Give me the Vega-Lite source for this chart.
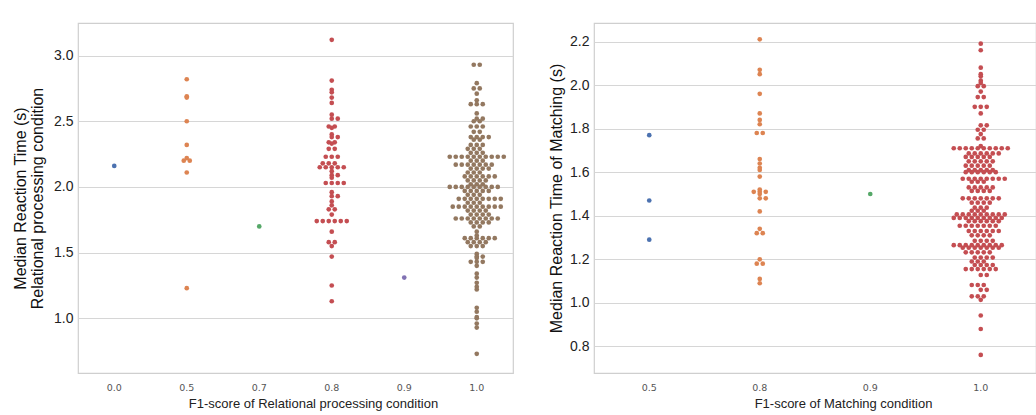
{
"$schema": "https://vega.github.io/schema/vega-lite/v6.json",
"padding": {"left": 11, "top": 22, "right": 0, "bottom": 0},
"spacing": 33,
"resolve": {"scale": {"color": "independent", "xOffset": "independent"}},
"datasets": {
"L": [
{"f":"0.0","t":2.16},
{"f":"0.5","t":2.82},{"f":"0.5","t":2.69},{"f":"0.5","t":2.68},{"f":"0.5","t":2.50},{"f":"0.5","t":2.32},{"f":"0.5","t":2.22},{"f":"0.5","t":2.20},{"f":"0.5","t":2.20},{"f":"0.5","t":2.11},{"f":"0.5","t":1.23},
{"f":"0.7","t":1.70},
{"f":"0.8","t":3.12},{"f":"0.8","t":2.81},{"f":"0.8","t":2.74},{"f":"0.8","t":2.72},{"f":"0.8","t":2.68},{"f":"0.8","t":2.64},{"f":"0.8","t":2.55},{"f":"0.8","t":2.52},{"f":"0.8","t":2.52},{"f":"0.8","t":2.46},{"f":"0.8","t":2.46},{"f":"0.8","t":2.45},{"f":"0.8","t":2.40},{"f":"0.8","t":2.38},{"f":"0.8","t":2.38},{"f":"0.8","t":2.34},{"f":"0.8","t":2.34},{"f":"0.8","t":2.33},{"f":"0.8","t":2.29},{"f":"0.8","t":2.29},{"f":"0.8","t":2.23},{"f":"0.8","t":2.23},{"f":"0.8","t":2.23},{"f":"0.8","t":2.18},{"f":"0.8","t":2.18},{"f":"0.8","t":2.18},{"f":"0.8","t":2.15},{"f":"0.8","t":2.15},{"f":"0.8","t":2.15},{"f":"0.8","t":2.15},{"f":"0.8","t":2.15},{"f":"0.8","t":2.12},{"f":"0.8","t":2.09},{"f":"0.8","t":2.09},{"f":"0.8","t":2.07},{"f":"0.8","t":2.03},{"f":"0.8","t":2.03},{"f":"0.8","t":2.03},{"f":"0.8","t":2.03},{"f":"0.8","t":1.96},{"f":"0.8","t":1.93},{"f":"0.8","t":1.93},{"f":"0.8","t":1.89},{"f":"0.8","t":1.86},{"f":"0.8","t":1.83},{"f":"0.8","t":1.83},{"f":"0.8","t":1.79},{"f":"0.8","t":1.74},{"f":"0.8","t":1.74},{"f":"0.8","t":1.74},{"f":"0.8","t":1.74},{"f":"0.8","t":1.74},{"f":"0.8","t":1.74},{"f":"0.8","t":1.66},{"f":"0.8","t":1.58},{"f":"0.8","t":1.58},{"f":"0.8","t":1.55},{"f":"0.8","t":1.47},{"f":"0.8","t":1.25},{"f":"0.8","t":1.13},
{"f":"0.9","t":1.31},
{"f":"1.0","t":2.93},{"f":"1.0","t":2.93},{"f":"1.0","t":2.79},{"f":"1.0","t":2.75},{"f":"1.0","t":2.75},{"f":"1.0","t":2.71},{"f":"1.0","t":2.66},{"f":"1.0","t":2.63},{"f":"1.0","t":2.63},{"f":"1.0","t":2.63},{"f":"1.0","t":2.56},{"f":"1.0","t":2.52},{"f":"1.0","t":2.52},{"f":"1.0","t":2.50},{"f":"1.0","t":2.50},{"f":"1.0","t":2.46},{"f":"1.0","t":2.46},{"f":"1.0","t":2.46},{"f":"1.0","t":2.42},{"f":"1.0","t":2.42},{"f":"1.0","t":2.38},{"f":"1.0","t":2.38},{"f":"1.0","t":2.38},{"f":"1.0","t":2.38},{"f":"1.0","t":2.36},{"f":"1.0","t":2.36},{"f":"1.0","t":2.32},{"f":"1.0","t":2.32},{"f":"1.0","t":2.32},{"f":"1.0","t":2.29},{"f":"1.0","t":2.29},{"f":"1.0","t":2.29},{"f":"1.0","t":2.26},{"f":"1.0","t":2.26},{"f":"1.0","t":2.26},
{"f":"1.0","t":2.23},{"f":"1.0","t":2.23},{"f":"1.0","t":2.23},{"f":"1.0","t":2.23},{"f":"1.0","t":2.23},{"f":"1.0","t":2.23},{"f":"1.0","t":2.23},{"f":"1.0","t":2.23},{"f":"1.0","t":2.23},{"f":"1.0","t":2.23},
{"f":"1.0","t":2.20},{"f":"1.0","t":2.20},{"f":"1.0","t":2.20},
{"f":"1.0","t":2.17},{"f":"1.0","t":2.17},{"f":"1.0","t":2.17},{"f":"1.0","t":2.17},{"f":"1.0","t":2.17},{"f":"1.0","t":2.17},{"f":"1.0","t":2.17},
{"f":"1.0","t":2.14},{"f":"1.0","t":2.14},{"f":"1.0","t":2.14},{"f":"1.0","t":2.14},
{"f":"1.0","t":2.11},{"f":"1.0","t":2.11},{"f":"1.0","t":2.11},
{"f":"1.0","t":2.08},{"f":"1.0","t":2.08},{"f":"1.0","t":2.08},{"f":"1.0","t":2.08},{"f":"1.0","t":2.08},{"f":"1.0","t":2.08},
{"f":"1.0","t":2.05},{"f":"1.0","t":2.05},{"f":"1.0","t":2.05},{"f":"1.0","t":2.05},
{"f":"1.0","t":2.02},{"f":"1.0","t":2.02},{"f":"1.0","t":2.02},
{"f":"1.0","t":2.00},{"f":"1.0","t":2.00},{"f":"1.0","t":2.00},{"f":"1.0","t":2.00},{"f":"1.0","t":2.00},{"f":"1.0","t":2.00},{"f":"1.0","t":2.00},{"f":"1.0","t":2.00},{"f":"1.0","t":2.00},
{"f":"1.0","t":1.97},{"f":"1.0","t":1.97},{"f":"1.0","t":1.97},{"f":"1.0","t":1.97},{"f":"1.0","t":1.97},
{"f":"1.0","t":1.94},{"f":"1.0","t":1.94},{"f":"1.0","t":1.94},
{"f":"1.0","t":1.91},{"f":"1.0","t":1.91},{"f":"1.0","t":1.91},{"f":"1.0","t":1.91},{"f":"1.0","t":1.91},{"f":"1.0","t":1.91},{"f":"1.0","t":1.91},{"f":"1.0","t":1.91},
{"f":"1.0","t":1.88},{"f":"1.0","t":1.88},{"f":"1.0","t":1.88},
{"f":"1.0","t":1.85},{"f":"1.0","t":1.85},{"f":"1.0","t":1.85},{"f":"1.0","t":1.85},{"f":"1.0","t":1.85},{"f":"1.0","t":1.85},{"f":"1.0","t":1.85},{"f":"1.0","t":1.85},{"f":"1.0","t":1.85},
{"f":"1.0","t":1.82},{"f":"1.0","t":1.82},{"f":"1.0","t":1.82},{"f":"1.0","t":1.82},
{"f":"1.0","t":1.79},{"f":"1.0","t":1.79},{"f":"1.0","t":1.79},{"f":"1.0","t":1.79},
{"f":"1.0","t":1.76},{"f":"1.0","t":1.76},{"f":"1.0","t":1.76},{"f":"1.0","t":1.76},{"f":"1.0","t":1.76},{"f":"1.0","t":1.76},{"f":"1.0","t":1.76},{"f":"1.0","t":1.76},
{"f":"1.0","t":1.73},{"f":"1.0","t":1.73},{"f":"1.0","t":1.73},{"f":"1.0","t":1.73},
{"f":"1.0","t":1.70},{"f":"1.0","t":1.70},{"f":"1.0","t":1.66},{"f":"1.0","t":1.63},
{"f":"1.0","t":1.61},{"f":"1.0","t":1.61},{"f":"1.0","t":1.61},{"f":"1.0","t":1.61},{"f":"1.0","t":1.61},{"f":"1.0","t":1.61},
{"f":"1.0","t":1.58},{"f":"1.0","t":1.58},{"f":"1.0","t":1.58},{"f":"1.0","t":1.58},
{"f":"1.0","t":1.55},{"f":"1.0","t":1.55},{"f":"1.0","t":1.55},
{"f":"1.0","t":1.49},{"f":"1.0","t":1.47},{"f":"1.0","t":1.47},{"f":"1.0","t":1.46},{"f":"1.0","t":1.43},{"f":"1.0","t":1.43},{"f":"1.0","t":1.43},{"f":"1.0","t":1.40},
{"f":"1.0","t":1.34},{"f":"1.0","t":1.31},{"f":"1.0","t":1.27},{"f":"1.0","t":1.24},{"f":"1.0","t":1.22},{"f":"1.0","t":1.08},{"f":"1.0","t":1.05},{"f":"1.0","t":1.01},{"f":"1.0","t":1.00},{"f":"1.0","t":0.96},{"f":"1.0","t":0.93},{"f":"1.0","t":0.73}
],
"R": [
{"f":"0.5","t":1.77},{"f":"0.5","t":1.47},{"f":"0.5","t":1.29},
{"f":"0.8","t":2.21},{"f":"0.8","t":2.07},{"f":"0.8","t":2.05},{"f":"0.8","t":1.96},{"f":"0.8","t":1.87},{"f":"0.8","t":1.84},{"f":"0.8","t":1.82},{"f":"0.8","t":1.78},{"f":"0.8","t":1.78},{"f":"0.8","t":1.66},{"f":"0.8","t":1.64},{"f":"0.8","t":1.62},{"f":"0.8","t":1.61},{"f":"0.8","t":1.58},{"f":"0.8","t":1.52},{"f":"0.8","t":1.51},{"f":"0.8","t":1.51},{"f":"0.8","t":1.51},{"f":"0.8","t":1.50},{"f":"0.8","t":1.48},{"f":"0.8","t":1.48},{"f":"0.8","t":1.42},{"f":"0.8","t":1.34},{"f":"0.8","t":1.32},{"f":"0.8","t":1.32},{"f":"0.8","t":1.20},{"f":"0.8","t":1.18},{"f":"0.8","t":1.18},{"f":"0.8","t":1.11},{"f":"0.8","t":1.09},
{"f":"0.9","t":1.50},
{"f":"1.0","t":2.19},{"f":"1.0","t":2.16},{"f":"1.0","t":2.08},{"f":"1.0","t":2.05},{"f":"1.0","t":2.04},{"f":"1.0","t":2.02},{"f":"1.0","t":2.01},{"f":"1.0","t":1.995},{"f":"1.0","t":1.995},{"f":"1.0","t":1.97},{"f":"1.0","t":1.945},{"f":"1.0","t":1.945},{"f":"1.0","t":1.90},{"f":"1.0","t":1.90},{"f":"1.0","t":1.90},{"f":"1.0","t":1.87},{"f":"1.0","t":1.815},{"f":"1.0","t":1.815},{"f":"1.0","t":1.795},{"f":"1.0","t":1.795},{"f":"1.0","t":1.775},{"f":"1.0","t":1.755},{"f":"1.0","t":1.755},{"f":"1.0","t":1.72},
{"f":"1.0","t":1.71},{"f":"1.0","t":1.71},{"f":"1.0","t":1.71},{"f":"1.0","t":1.71},{"f":"1.0","t":1.71},{"f":"1.0","t":1.71},{"f":"1.0","t":1.71},{"f":"1.0","t":1.71},{"f":"1.0","t":1.71},{"f":"1.0","t":1.71},
{"f":"1.0","t":1.686},{"f":"1.0","t":1.686},{"f":"1.0","t":1.686},{"f":"1.0","t":1.686},{"f":"1.0","t":1.686},{"f":"1.0","t":1.686},
{"f":"1.0","t":1.67},{"f":"1.0","t":1.67},{"f":"1.0","t":1.67},{"f":"1.0","t":1.67},{"f":"1.0","t":1.67},
{"f":"1.0","t":1.65},{"f":"1.0","t":1.65},{"f":"1.0","t":1.65},{"f":"1.0","t":1.65},{"f":"1.0","t":1.65},
{"f":"1.0","t":1.63},{"f":"1.0","t":1.63},{"f":"1.0","t":1.63},{"f":"1.0","t":1.63},{"f":"1.0","t":1.63},
{"f":"1.0","t":1.61},{"f":"1.0","t":1.61},{"f":"1.0","t":1.61},{"f":"1.0","t":1.61},{"f":"1.0","t":1.61},
{"f":"1.0","t":1.60},{"f":"1.0","t":1.60},{"f":"1.0","t":1.60},{"f":"1.0","t":1.60},{"f":"1.0","t":1.60},{"f":"1.0","t":1.60},
{"f":"1.0","t":1.57},{"f":"1.0","t":1.57},{"f":"1.0","t":1.57},{"f":"1.0","t":1.57},{"f":"1.0","t":1.57},{"f":"1.0","t":1.57},{"f":"1.0","t":1.57},{"f":"1.0","t":1.57},
{"f":"1.0","t":1.556},{"f":"1.0","t":1.556},{"f":"1.0","t":1.556},
{"f":"1.0","t":1.53},{"f":"1.0","t":1.53},{"f":"1.0","t":1.53},{"f":"1.0","t":1.53},{"f":"1.0","t":1.53},
{"f":"1.0","t":1.514},{"f":"1.0","t":1.514},{"f":"1.0","t":1.514},{"f":"1.0","t":1.514},
{"f":"1.0","t":1.48},{"f":"1.0","t":1.48},{"f":"1.0","t":1.48},{"f":"1.0","t":1.48},{"f":"1.0","t":1.48},{"f":"1.0","t":1.48},{"f":"1.0","t":1.48},
{"f":"1.0","t":1.46},{"f":"1.0","t":1.46},{"f":"1.0","t":1.46},{"f":"1.0","t":1.46},
{"f":"1.0","t":1.437},{"f":"1.0","t":1.437},{"f":"1.0","t":1.437},
{"f":"1.0","t":1.423},{"f":"1.0","t":1.423},{"f":"1.0","t":1.423},
{"f":"1.0","t":1.406},{"f":"1.0","t":1.406},{"f":"1.0","t":1.406},{"f":"1.0","t":1.406},{"f":"1.0","t":1.406},{"f":"1.0","t":1.406},{"f":"1.0","t":1.406},{"f":"1.0","t":1.406},{"f":"1.0","t":1.406},
{"f":"1.0","t":1.39},{"f":"1.0","t":1.39},{"f":"1.0","t":1.39},{"f":"1.0","t":1.39},{"f":"1.0","t":1.39},{"f":"1.0","t":1.39},{"f":"1.0","t":1.39},{"f":"1.0","t":1.39},{"f":"1.0","t":1.39},
{"f":"1.0","t":1.375},{"f":"1.0","t":1.375},{"f":"1.0","t":1.375},{"f":"1.0","t":1.375},{"f":"1.0","t":1.375},{"f":"1.0","t":1.375},
{"f":"1.0","t":1.354},{"f":"1.0","t":1.354},{"f":"1.0","t":1.354},{"f":"1.0","t":1.354},{"f":"1.0","t":1.354},{"f":"1.0","t":1.354},{"f":"1.0","t":1.354},
{"f":"1.0","t":1.33},{"f":"1.0","t":1.33},{"f":"1.0","t":1.33},{"f":"1.0","t":1.33},{"f":"1.0","t":1.33},{"f":"1.0","t":1.33},
{"f":"1.0","t":1.31},{"f":"1.0","t":1.31},{"f":"1.0","t":1.31},{"f":"1.0","t":1.31},
{"f":"1.0","t":1.285},{"f":"1.0","t":1.285},{"f":"1.0","t":1.285},{"f":"1.0","t":1.285},
{"f":"1.0","t":1.265},{"f":"1.0","t":1.265},{"f":"1.0","t":1.265},{"f":"1.0","t":1.265},{"f":"1.0","t":1.265},{"f":"1.0","t":1.265},{"f":"1.0","t":1.265},{"f":"1.0","t":1.265},{"f":"1.0","t":1.265},
{"f":"1.0","t":1.253},{"f":"1.0","t":1.253},{"f":"1.0","t":1.253},{"f":"1.0","t":1.253},{"f":"1.0","t":1.253},{"f":"1.0","t":1.253},{"f":"1.0","t":1.253},
{"f":"1.0","t":1.232},{"f":"1.0","t":1.232},{"f":"1.0","t":1.232},{"f":"1.0","t":1.232},{"f":"1.0","t":1.232},
{"f":"1.0","t":1.208},{"f":"1.0","t":1.208},{"f":"1.0","t":1.208},{"f":"1.0","t":1.208},
{"f":"1.0","t":1.19},{"f":"1.0","t":1.19},{"f":"1.0","t":1.19},
{"f":"1.0","t":1.174},{"f":"1.0","t":1.174},{"f":"1.0","t":1.174},{"f":"1.0","t":1.174},
{"f":"1.0","t":1.155},{"f":"1.0","t":1.155},{"f":"1.0","t":1.155},{"f":"1.0","t":1.155},{"f":"1.0","t":1.155},{"f":"1.0","t":1.155},
{"f":"1.0","t":1.128},{"f":"1.0","t":1.128},
{"f":"1.0","t":1.082},{"f":"1.0","t":1.082},{"f":"1.0","t":1.082},
{"f":"1.0","t":1.06},{"f":"1.0","t":1.06},
{"f":"1.0","t":1.03},{"f":"1.0","t":1.03},{"f":"1.0","t":1.03},
{"f":"1.0","t":1.014},{"f":"1.0","t":0.942},{"f":"1.0","t":0.88},{"f":"1.0","t":0.761}
]
},
"config": {
"font": "Liberation Sans",
"view": {"stroke": "#cfcfcf", "strokeWidth": 1.2},
"axis": {"domain": false, "ticks": false, "gridColor": "#d6d6d6", "gridWidth": 1.2},
"axisX": {"grid": false, "labelFont": "DejaVu Sans", "labelFontSize": 9.5, "labelColor": "#555555", "labelPadding": 9, "labelAngle": 0, "titleFontSize": 13, "titleFontWeight": "normal", "titleColor": "#222222", "titlePadding": 6},
"axisY": {"labelFontSize": 14, "labelColor": "#222222", "labelPadding": 5, "titleFontSize": 16, "titleFontWeight": "normal", "titleColor": "#111111"}
},
"hconcat": [
{
"data": {"name": "L"},
"width": 435, "height": 350,
"transform": [
{"window": [{"op": "dense_rank", "as": "k"}], "groupby": ["f"], "sort": [{"field": "t"}]},
{"window": [{"op": "row_number", "as": "r"}], "groupby": ["f", "t"]},
{"joinaggregate": [{"op": "count", "as": "n"}], "groupby": ["f", "t"]},
{"calculate": "(datum.k % 2 == 0 || datum.n == 1) ? (datum.r % 2 == 1 ? -(datum.r - 1) / 2 : datum.r / 2) : (datum.r % 2 == 1 ? -((datum.r - 1) / 2 + 0.5) : (datum.r / 2 - 0.5))", "as": "off"}
],
"mark": {"type": "circle", "size": 22, "opacity": 1},
"encoding": {
"x": {"field": "f", "type": "ordinal", "sort": ["0.0", "0.5", "0.7", "0.8", "0.9", "1.0"], "scale": {"paddingInner": 0, "paddingOuter": 0}, "axis": {"title": "F1-score of Relational processing condition", "titleX": 235}},
"xOffset": {"field": "off", "type": "quantitative", "scale": {"domain": [-6.04, 6.04], "range": [0, 72.5]}},
"y": {"field": "t", "type": "quantitative", "scale": {"domain": [0.584, 3.248], "nice": false, "zero": false}, "axis": {"values": [1, 1.5, 2, 2.5, 3], "format": ".1f", "minExtent": 25, "maxExtent": 25, "titlePadding": 8, "titleLineHeight": 17, "title": ["Median Reaction Time (s)", "Relational processing condition"]}},
"color": {"field": "f", "type": "nominal", "scale": {"domain": ["0.0", "0.5", "0.7", "0.8", "0.9", "1.0"], "range": ["#4C72B0", "#DD8452", "#55A868", "#C44E52", "#8172B3", "#937860"]}, "legend": null}
}
},
{
"data": {"name": "R"},
"width": 442, "height": 350,
"transform": [
{"window": [{"op": "dense_rank", "as": "k"}], "groupby": ["f"], "sort": [{"field": "t"}]},
{"window": [{"op": "row_number", "as": "r"}], "groupby": ["f", "t"]},
{"joinaggregate": [{"op": "count", "as": "n"}], "groupby": ["f", "t"]},
{"calculate": "(datum.k % 2 == 0 || datum.n == 1) ? (datum.r % 2 == 1 ? -(datum.r - 1) / 2 : datum.r / 2) : (datum.r % 2 == 1 ? -((datum.r - 1) / 2 + 0.5) : (datum.r / 2 - 0.5))", "as": "off"}
],
"mark": {"type": "circle", "size": 22, "opacity": 1},
"encoding": {
"x": {"field": "f", "type": "ordinal", "sort": ["0.5", "0.8", "0.9", "1.0"], "scale": {"paddingInner": 0, "paddingOuter": 0}, "axis": {"title": "F1-score of Matching condition", "titleX": 249}},
"xOffset": {"field": "off", "type": "quantitative", "scale": {"domain": [-9.21, 9.21], "range": [0, 110.5]}},
"y": {"field": "t", "type": "quantitative", "scale": {"domain": [0.678, 2.285], "nice": false, "zero": false}, "axis": {"values": [0.8, 1.0, 1.2, 1.4, 1.6, 1.8, 2.0, 2.2], "format": ".1f", "minExtent": 25, "maxExtent": 25, "titlePadding": 5, "title": "Median Reaction Time of Matching (s)"}},
"color": {"field": "f", "type": "nominal", "scale": {"domain": ["0.5", "0.8", "0.9", "1.0"], "range": ["#4C72B0", "#DD8452", "#55A868", "#C44E52"]}, "legend": null}
}
}
]
}
